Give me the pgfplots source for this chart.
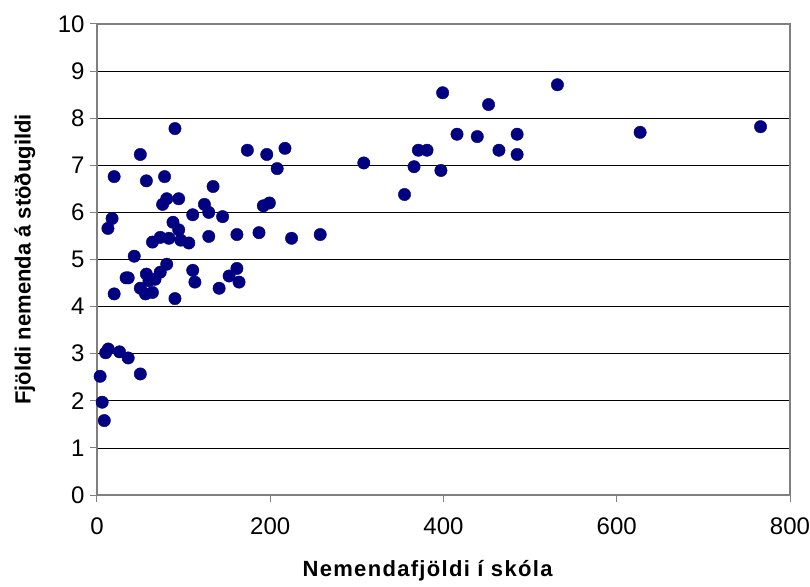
\documentclass[border=0pt]{standalone}
\usepackage{pgfplots}
\pgfplotsset{compat=1.18}
\usepackage{fontspec}
\setmainfont{Liberation Sans}
\newfontfamily\lblfont[LetterSpace=6]{Liberation Sans}
\definecolor{navy}{RGB}{0,0,128}
\definecolor{framegray}{RGB}{128,128,128}
\begin{document}
\begin{tikzpicture}
\begin{axis}[
  scale only axis,
  width=693pt, height=471pt,
  xmin=0, xmax=800, ymin=0, ymax=10,
  xtick={0,200,...,800}, ytick={0,1,...,10},
  ymajorgrids, grid style={black, line width=0.8pt},
  axis line style={framegray, line width=1.2pt},
  tick style={framegray, line width=1pt},
  tick align=outside, tick pos=left,
  major tick length=7pt,
  /pgf/number format/assume math mode=true,
  /pgf/number format/1000 sep={},
  tick label style={font=\fontsize{24}{28}\selectfont},
  yticklabel style={xshift=-2pt},
  xticklabel style={yshift=-12pt},
  xlabel={Nemendafjöldi í skóla},
  ylabel={Fjöldi nemenda á stöðugildi},
  xlabel style={font=\lblfont\fontsize{22}{26}\selectfont\bfseries, at={(axis description cs:0.477,-0.161)}, anchor=center},
  ylabel style={font=\fontsize{22}{26}\selectfont\bfseries, at={(axis description cs:-0.104,0.5)}, anchor=center},
  clip=false,
]
\addplot[only marks, mark=*, mark size=6.2pt, mark options={fill=navy, draw=navy}] coordinates {
(3.6,2.52) (6,1.97) (8.4,1.58) (10,3.02) (13,3.10) (26,3.04) (36,2.91) (50,2.57)
(12.6,5.66) (17.4,5.87) (19.8,6.76) (19.8,4.27) (33.6,4.61) (36,4.61) (43,5.07)
(50,7.23) (50,4.39) (57,6.67) (57,4.69) (56,4.27) (60,4.55) (64,5.37) (64,4.30)
(67,4.58) (73,4.73) (73,5.47) (75.7,6.17) (78,6.76) (80.5,6.29) (80.5,4.90)
(83,5.45) (87.7,5.79) (90,7.78) (90,4.17) (94.3,6.29) (94.3,5.63) (96.7,5.41)
(106,5.35) (110.5,5.95) (110.5,4.77) (113,4.52) (124,6.17) (129,6.00) (129,5.49)
(134,6.55) (141,4.39) (145,5.91) (152.5,4.65) (161.5,5.53) (161.5,4.81) (164,4.52)
(173.6,7.32) (187,5.57) (192,6.14) (196,7.23) (199,6.20) (208,6.93) (217,7.36)
(224.6,5.45) (257.7,5.53) (308,7.05) (355,6.38) (366,6.97) (371,7.32) (381,7.32)
(397,6.89) (399,8.54) (415.6,7.66) (439,7.61) (452,8.29) (464,7.32) (485,7.66)
(485,7.23) (531.5,8.71) (627,7.70) (766,7.82)
};
\end{axis}
\pgfresetboundingbox
\path (-97pt,-91pt) rectangle (713pt,495pt);
\end{tikzpicture}
\end{document}
